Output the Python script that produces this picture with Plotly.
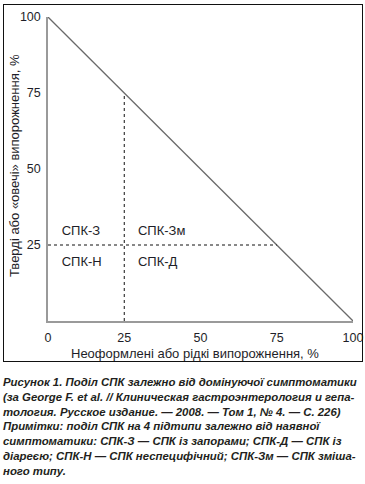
import plotly.graph_objects as go

# Data
diag_x = [0, 100]
diag_y = [100, 0]
vline_x = [25, 25]
vline_y = [0, 75]
hline_x = [0, 75]
hline_y = [25, 25]
tick_vals = [0, 25, 50, 75, 100]
tick_text = ["0", "25", "50", "75", "100"]
region_labels = ["СПК-З", "СПК-Зм", "СПК-Н", "СПК-Д"]
region_x = [4.5, 29.5, 4.5, 29.5]
region_y = [29.3, 29.3, 19.1, 19.1]
x_title = "Неоформлені або рідкі випорожнення, %"
y_title = "Тверді або «овечі» випорожнення, %"
caption_lines = [
    "Рисунок 1. Поділ СПК залежно від домінуючої симптоматики",
    "(за George F. et al. // Клиническая гастроэнтерология и гепа-",
    "тология. Русское издание. — 2008. — Том 1, № 4. — С. 226)",
    "Примітки: поділ СПК на 4 підтипи залежно від наявної",
    "симптоматики: СПК-З — СПК із запорами; СПК-Д — СПК із",
    "діареєю; СПК-Н — СПК неспецифічний; СПК-Зм — СПК зміша-",
    "ного типу.",
]

W, H = 365, 484
# plot area in pixels
PL, PR, PT, PB = 48, 353, 17, 321
# frame box in pixels
FL, FR, FT, FB = 3, 363, 4, 362


def px2paper_x(px):
    return px / W


def px2paper_y(py):
    return 1 - py / H


FONT = "Liberation Sans, Arial, sans-serif"
TXT = "#1e1e28"

fig = go.Figure()
fig.add_trace(go.Scatter(x=diag_x, y=diag_y, mode="lines",
                         line=dict(color="#6a6a6a", width=1.3),
                         cliponaxis=False, hoverinfo="skip", showlegend=False))
fig.add_trace(go.Scatter(x=vline_x, y=vline_y, mode="lines",
                         line=dict(color="#111", width=1, dash="3px,3px"),
                         hoverinfo="skip", showlegend=False))
fig.add_trace(go.Scatter(x=hline_x, y=hline_y, mode="lines",
                         line=dict(color="#111", width=1, dash="3px,3px"),
                         hoverinfo="skip", showlegend=False))
fig.add_trace(go.Scatter(x=region_x, y=region_y, mode="text", text=region_labels,
                         textposition="middle right",
                         textfont=dict(family=FONT, size=13, color=TXT),
                         hoverinfo="skip", showlegend=False))

annotations = [
    dict(text=x_title, xref="paper", yref="paper",
         x=px2paper_x(195), y=px2paper_y(353), xanchor="center", yanchor="middle",
         showarrow=False, font=dict(family=FONT, size=13, color=TXT)),
    dict(text=y_title, xref="paper", yref="paper", textangle=-90,
         x=px2paper_x(14), y=px2paper_y(166), xanchor="center", yanchor="middle",
         showarrow=False, font=dict(family=FONT, size=13, color=TXT)),
    dict(text="<br>".join("<b><i>" + s + "</i></b>" for s in caption_lines),
         xref="paper", yref="paper", x=px2paper_x(1), y=px2paper_y(374),
         xanchor="left", yanchor="top", align="left", showarrow=False,
         font=dict(family=FONT, size=11.4, color="#231f20")),
]

fig.update_layout(
    width=W, height=H,
    margin=dict(l=0, r=0, t=0, b=0, pad=0),
    paper_bgcolor="white", plot_bgcolor="rgba(0,0,0,0)",
    annotations=annotations,
    xaxis=dict(domain=[px2paper_x(PL), px2paper_x(PR)],
               range=[0, 100], tickvals=tick_vals, ticktext=tick_text,
               showgrid=False, zeroline=False, showline=True,
               linecolor="#9a9a9a", linewidth=1.5, ticks="",
               tickfont=dict(family=FONT, size=12.5, color=TXT),
               ticklabelstandoff=4, fixedrange=True, automargin=False),
    yaxis=dict(domain=[px2paper_y(PB), px2paper_y(PT)],
               range=[0, 100], tickvals=tick_vals[1:], ticktext=tick_text[1:],
               showgrid=False, zeroline=False, showline=True,
               linecolor="#9a9a9a", linewidth=1.5, ticks="",
               tickfont=dict(family=FONT, size=12.5, color=TXT),
               ticklabelstandoff=3, fixedrange=True, automargin=False),
)

frame_js = (
    "document.body.style.margin='0';"
    "var f=document.createElement('div');"
    "f.style.cssText='position:absolute;left:%dpx;top:%dpx;width:%dpx;height:%dpx;"
    "border:1.5px solid #111;box-sizing:border-box;pointer-events:none;z-index:10;';"
    "document.body.appendChild(f);" % (FL, FT, FR - FL, FB - FT)
)

fig.write_html("out.html", config={"displayModeBar": False}, post_script=frame_js)
